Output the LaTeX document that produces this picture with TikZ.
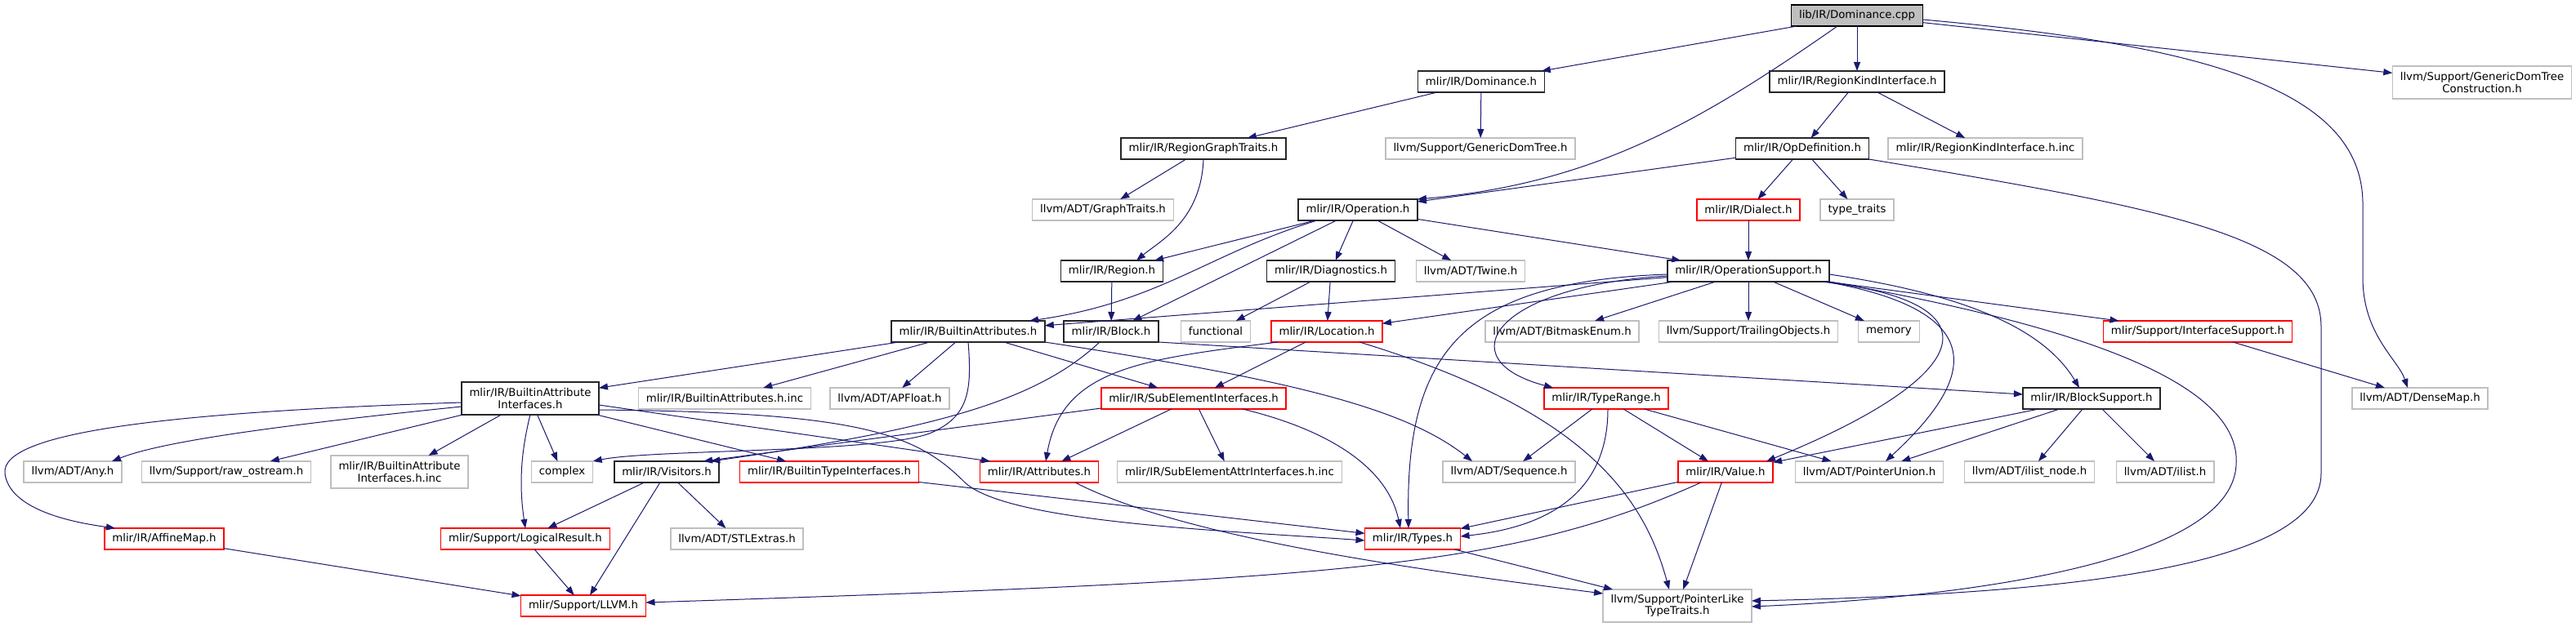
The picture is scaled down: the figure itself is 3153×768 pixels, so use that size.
\documentclass[tikz,border=0pt]{standalone}
\usepackage{fontspec}
\setmainfont{DejaVu Sans}
\usepackage{tikz}
\usetikzlibrary{arrows.meta}
\definecolor{EdgeNavy}{RGB}{25,25,112}
\definecolor{BoxGray}{RGB}{191,191,191}
\definecolor{BoxRed}{RGB}{255,0,0}

\begin{document}
\begin{tikzpicture}[
    x=1pt, y=-1pt,
    hdr/.style={draw, line width=1.5pt, inner xsep=9.5pt, inner ysep=4pt, minimum height=26pt,
                outer sep=0pt, align=center, font=\fontsize{13.3}{14.5}\selectfont},
    rootfile/.style={hdr, draw=black, fill=BoxGray},
    docfile/.style={hdr, draw=black!85},
    extfile/.style={hdr, draw=BoxGray},
    redfile/.style={hdr, draw=BoxRed},
    twoline/.style={minimum height=40pt},
    inc/.style={-{Triangle[length=11pt, width=8pt]}, line width=1pt, draw=EdgeNavy},
]
\path[use as bounding box, fill=white] (0,0) rectangle (3153,768);

\node[rootfile] (cpp) at (2273,19) {lib/IR/Dominance.cpp};
\node[docfile] (domh) at (1813,100) {mlir/IR/Dominance.h};
\node[docfile] (rki) at (2273,100) {mlir/IR/RegionKindInterface.h};
\node[extfile, twoline] (gdtc) at (3038,101) {llvm/Support/GenericDomTree\\Construction.h};
\node[docfile] (rgt) at (1473,182) {mlir/IR/RegionGraphTraits.h};
\node[extfile] (gdt) at (1812,182) {llvm/Support/GenericDomTree.h};
\node[docfile] (opdef) at (2206,182) {mlir/IR/OpDefinition.h};
\node[extfile] (rkiinc) at (2430,182) {mlir/IR/RegionKindInterface.h.inc};
\node[extfile] (graphtr) at (1350,257) {llvm/ADT/GraphTraits.h};
\node[docfile] (oper) at (1662,257) {mlir/IR/Operation.h};
\node[redfile] (dialect) at (2140,257) {mlir/IR/Dialect.h};
\node[extfile] (typetr) at (2273,257) {type\_traits};
\node[docfile] (region) at (1361,332) {mlir/IR/Region.h};
\node[docfile] (diag) at (1629,332) {mlir/IR/Diagnostics.h};
\node[extfile] (twine) at (1800,332) {llvm/ADT/Twine.h};
\node[docfile] (opsup) at (2140,332) {mlir/IR/OperationSupport.h};
\node[docfile] (battr) at (1185,406) {mlir/IR/BuiltinAttributes.h};
\node[docfile] (block) at (1360,406) {mlir/IR/Block.h};
\node[extfile] (functional) at (1488,406) {functional};
\node[redfile] (loc) at (1624,406) {mlir/IR/Location.h};
\node[extfile] (bitmask) at (1912,406) {llvm/ADT/BitmaskEnum.h};
\node[extfile] (trailing) at (2140,406) {llvm/Support/TrailingObjects.h};
\node[extfile] (memory) at (2312,406) {memory};
\node[redfile] (ifsup) at (2690,406) {mlir/Support/InterfaceSupport.h};
\node[docfile, twoline] (bai) at (649,488) {mlir/IR/BuiltinAttribute\\Interfaces.h};
\node[extfile] (battrinc) at (887,488) {mlir/IR/BuiltinAttributes.h.inc};
\node[extfile] (apfloat) at (1089,488) {llvm/ADT/APFloat.h};
\node[redfile] (subel) at (1461,488) {mlir/IR/SubElementInterfaces.h};
\node[redfile] (typerange) at (1966,488) {mlir/IR/TypeRange.h};
\node[docfile] (blocksup) at (2560,488) {mlir/IR/BlockSupport.h};
\node[extfile] (densemap) at (2962,488) {llvm/ADT/DenseMap.h};
\node[extfile] (anyh) at (89,578) {llvm/ADT/Any.h};
\node[extfile] (rawos) at (277,578) {llvm/Support/raw\_ostream.h};
\node[extfile, twoline] (baiinc) at (489,578) {mlir/IR/BuiltinAttribute\\Interfaces.h.inc};
\node[extfile] (complex) at (688,578) {complex};
\node[docfile] (visitors) at (816,578) {mlir/IR/Visitors.h};
\node[redfile] (bti) at (1015,578) {mlir/IR/BuiltinTypeInterfaces.h};
\node[redfile] (attrs) at (1272,578) {mlir/IR/Attributes.h};
\node[extfile] (subelinc) at (1505,578) {mlir/IR/SubElementAttrInterfaces.h.inc};
\node[extfile] (sequence) at (1847,578) {llvm/ADT/Sequence.h};
\node[redfile] (value) at (2112,578) {mlir/IR/Value.h};
\node[extfile] (ptrunion) at (2288,578) {llvm/ADT/PointerUnion.h};
\node[extfile] (ilistnode) at (2484,578) {llvm/ADT/ilist\_node.h};
\node[extfile] (ilist) at (2650,578) {llvm/ADT/ilist.h};
\node[redfile] (affine) at (201,660) {mlir/IR/AffineMap.h};
\node[redfile] (logres) at (643,660) {mlir/Support/LogicalResult.h};
\node[extfile] (stlext) at (902,660) {llvm/ADT/STLExtras.h};
\node[redfile] (types) at (1729,660) {mlir/IR/Types.h};
\node[redfile] (llvmh) at (714,742) {mlir/Support/LLVM.h};
\node[extfile, twoline] (ptrlike) at (2053,742) {llvm/Support/PointerLike\\TypeTraits.h};

\draw[inc] (cpp) -- (domh);
\draw[inc] ([xshift=-24pt]cpp.south) .. controls (2080,150) and (1950,225) .. (oper.north east);
\draw[inc] (cpp) -- (rki);
\draw[inc] (cpp) -- (gdtc);
\draw[inc] ([yshift=-5pt]cpp.east) .. controls (2700,55) and (2892,110) .. (2892,250)
  -- (2892,340) .. controls (2892,410) and (2935,440) .. ([xshift=-15pt]densemap.north);
\draw[inc] (domh) -- (rgt);
\draw[inc] (domh) -- (gdt);
\draw[inc] (rki) -- (opdef);
\draw[inc] (rki) -- (rkiinc);
\draw[inc] (rgt) -- (graphtr);
\draw[inc] (rgt.south) .. controls (1470,270) and (1420,295) .. ([xshift=30pt]region.north);
\draw[inc] (opdef) -- (oper);
\draw[inc] (opdef) -- (dialect);
\draw[inc] (opdef) -- (typetr);
\draw[inc] (opdef.south east) .. controls (2650,255) and (2841,290) .. (2841,400)
  -- (2841,580) .. controls (2841,700) and (2500,728) .. ([yshift=6pt]ptrlike.east);
\draw[inc] (dialect) -- (opsup);
\draw[inc] (oper) -- (region);
\draw[inc] ([xshift=-50pt]oper.south) .. controls (1480,310) and (1420,370) .. ([xshift=75pt]battr.north);
\draw[inc] (oper) -- (block);
\draw[inc] (oper) -- (diag);
\draw[inc] (oper) -- (twine);
\draw[inc] (oper) -- (opsup);
\draw[inc] (region) -- (block);
\draw[inc] (diag) -- (functional);
\draw[inc] (diag) -- (loc);
\draw[inc] (opsup) -- (battr);
\draw[inc] (opsup) -- (loc);
\draw[inc] ([yshift=-6pt]opsup.west) .. controls (1830,350) and (1770,440) .. ([xshift=-65pt]typerange.north);
\draw[inc] ([yshift=-4pt]opsup.west) .. controls (1790,345) and (1720,430) .. ([xshift=-5pt]types.north);
\draw[inc] (opsup) -- (bitmask);
\draw[inc] (opsup) -- (trailing);
\draw[inc] (opsup) -- (memory);
\draw[inc] (opsup) -- (ifsup);
\draw[inc] ([yshift=-4pt]opsup.east) .. controls (2400,360) and (2500,400) .. ([xshift=-15pt]blocksup.north);
\draw[inc] ([xshift=-10pt]opsup.south east) .. controls (2450,370) and (2420,460) .. ([xshift=-8pt]value.north east);
\draw[inc] ([xshift=-5pt]opsup.south east) .. controls (2460,385) and (2400,480) .. ([xshift=20pt]ptrunion.north);
\draw[inc] (opsup.south east) .. controls (2550,400) and (2745,470) .. (2737,570)
  .. controls (2730,690) and (2400,732) .. ([yshift=-1pt]ptrlike.east);
\draw[inc] (battr) -- (bai);
\draw[inc] (battr) -- (battrinc);
\draw[inc] (battr) -- (apfloat);
\draw[inc] (battr) -- (subel);
\draw[inc] (battr.south) .. controls (1190,480) and (1185,510) .. (1140,530)
  .. controls (1080,555) and (800,550) .. (complex.north east);
\draw[inc] (battr.south east) .. controls (1580,465) and (1720,500) .. ([xshift=-45pt]sequence.north);
\draw[inc] (block.south east) -- ([yshift=5pt]blocksup.west);
\draw[inc] ([xshift=-14pt]block.south) .. controls (1270,490) and (1150,525) .. ([xshift=-10pt]visitors.north east);
\draw[inc] (loc) -- (subel);
\draw[inc] ([xshift=-60pt]loc.south) .. controls (1400,440) and (1300,450) .. ([xshift=8pt]attrs.north);
\draw[inc] ([xshift=40pt]loc.south) .. controls (1930,500) and (2010,600) .. ([xshift=-10pt]ptrlike.north);
\draw[inc] ([yshift=-12pt]subel.west) -- ([xshift=45pt]visitors.north);
\draw[inc] (subel) -- (attrs);
\draw[inc] (subel) -- (subelinc);
\draw[inc] ([xshift=60pt]subel.south) .. controls (1640,530) and (1700,580) .. ([xshift=-15pt]types.north);
\draw[inc] ([yshift=-10pt]bai.west) .. controls (350,520) and (200,540) .. ([xshift=48pt]anyh.north);
\draw[inc] (bai) -- (rawos);
\draw[inc] (bai) -- (baiinc);
\draw[inc] (bai) -- (complex);
\draw[inc] (bai.south) .. controls (636,560) and (636,600) .. (logres.north);
\draw[inc] ([yshift=-5pt]bai.west) .. controls (200,505) and (0,530) .. (6,580)
  .. controls (12,625) and (90,640) .. ([xshift=-60pt]affine.north);
\draw[inc] (bai) -- (bti);
\draw[inc] ([yshift=-8pt]bai.east) -- ([xshift=-60pt]attrs.north);
\draw[inc] ([yshift=-14pt]bai.east) .. controls (1050,505) and (1120,530) .. (1180,590)
  .. controls (1230,640) and (1500,650) .. ([yshift=-2pt]types.west);
\draw[inc] (bti) -- (types);
\draw[inc] ([xshift=44pt]attrs.south) .. controls (1450,660) and (1750,700) .. ([yshift=15pt]ptrlike.west);
\draw[inc] (visitors) -- (logres);
\draw[inc] (visitors) -- (llvmh);
\draw[inc] (visitors) -- (stlext);
\draw[inc] (logres) -- (llvmh);
\draw[inc] (affine) -- (llvmh);
\draw[inc] ([xshift=-30pt]value.south) .. controls (1850,695) and (1650,710) .. ([yshift=4pt]llvmh.east);
\draw[inc] (value) -- (types);
\draw[inc] (value) -- (ptrlike);
\draw[inc] (types) -- (ptrlike);
\draw[inc] (typerange) -- (sequence);
\draw[inc] (typerange) -- (value);
\draw[inc] (typerange) -- (ptrunion);
\draw[inc] ([xshift=2pt]typerange.south) .. controls (1968,600) and (1900,645) .. ([yshift=3pt]types.east);
\draw[inc] (blocksup) -- (value);
\draw[inc] (blocksup) -- (ptrunion);
\draw[inc] (blocksup) -- (ilistnode);
\draw[inc] (blocksup) -- (ilist);
\draw[inc] (ifsup) -- (densemap);
\end{tikzpicture}
\end{document}
